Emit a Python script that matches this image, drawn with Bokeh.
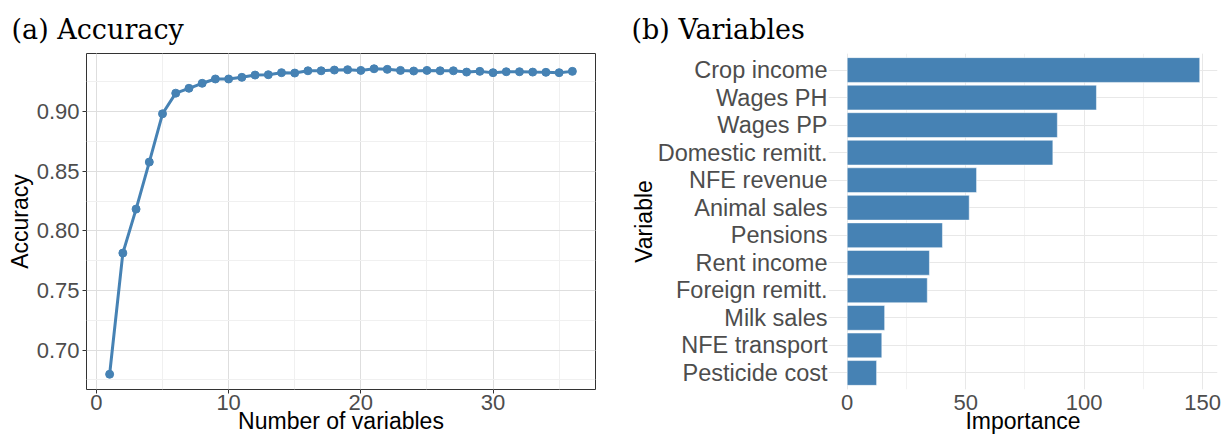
from bokeh.plotting import figure
from bokeh.models import Range1d, FactorRange, SingleIntervalTicker, NumeralTickFormatter, ColumnDataSource
from bokeh.layouts import row
from bokeh.embed import file_html
from bokeh.resources import INLINE

# ---------------- data ----------------
n_vars = [1, 2, 3, 4, 5, 6, 7, 8, 9, 10, 11, 12, 13, 14, 15, 16, 17, 18,
          19, 20, 21, 22, 23, 24, 25, 26, 27, 28, 29, 30, 31, 32, 33, 34, 35, 36]
accuracy = [0.6797, 0.7814, 0.8183, 0.8578, 0.8983, 0.9156, 0.9197, 0.9239,
            0.9275, 0.9275, 0.9289, 0.9308, 0.9311, 0.9328, 0.9325, 0.9344,
            0.9344, 0.9350, 0.9353, 0.9347, 0.9361, 0.9356, 0.9347, 0.9342,
            0.9347, 0.9344, 0.9344, 0.9333, 0.9339, 0.9328, 0.9336, 0.9336,
            0.9333, 0.9331, 0.9328, 0.9339]

variables = ["Crop income", "Wages PH", "Wages PP", "Domestic remitt.",
             "NFE revenue", "Animal sales", "Pensions", "Rent income",
             "Foreign remitt.", "Milk sales", "NFE transport", "Pesticide cost"]
importance = [148.8, 105.2, 88.7, 86.8, 54.6, 51.5, 40.2, 34.7, 33.8, 15.8, 14.6, 12.4]

panel_titles = ["(a) Accuracy", "(b) Variables"]
axis_titles = ["Number of variables", "Accuracy", "Importance", "Variable"]

STEEL = "#4682B4"
SANS = "Liberation Sans"
SERIF = "DejaVu Serif"
TICK_COL = "#4d4d4d"
H = 436


def style_title(p, text, offset):
    p.title.text = text
    p.title.align = "left"
    p.title.offset = offset
    p.title.text_font = SERIF
    p.title.text_font_size = "27px"
    p.title.text_font_style = "normal"
    p.title.text_color = "black"
    p.title.standoff = 18


def style_axis_title(ax, text, standoff):
    ax.axis_label = text
    ax.axis_label_text_font = SANS
    ax.axis_label_text_font_size = "23px"
    ax.axis_label_text_font_style = "normal"
    ax.axis_label_text_color = "black"
    ax.axis_label_standoff = standoff


# ---------------- left panel ----------------
p1 = figure(width=620, height=H, output_backend="svg", toolbar_location=None,
            x_range=Range1d(-0.75, 37.75), y_range=Range1d(0.6669, 0.9489),
            min_border_left=86, min_border_right=25, min_border_top=53,
            min_border_bottom=45)
style_title(p1, panel_titles[0], -75)

p1.outline_line_color = "#333333"
p1.outline_line_width = 1
p1.background_fill_color = "white"

p1.xaxis.ticker = SingleIntervalTicker(interval=10, num_minor_ticks=2)
p1.yaxis.ticker = SingleIntervalTicker(interval=0.05, num_minor_ticks=2)
p1.yaxis.formatter = NumeralTickFormatter(format="0.00")
for ax in (p1.xaxis, p1.yaxis):
    ax.axis_line_color = None
    ax.major_tick_line_color = "#333333"
    ax.major_tick_out = 4
    ax.major_tick_in = 0
    ax.minor_tick_line_color = None
    ax.major_label_text_font = SANS
    ax.major_label_text_font_size = "22px"
    ax.major_label_text_color = TICK_COL
    ax.major_label_standoff = 1
p1.yaxis.major_label_standoff = 3
style_axis_title(p1.xaxis, axis_titles[0], -5)
style_axis_title(p1.yaxis, axis_titles[1], 1)

for g in (p1.xgrid, p1.ygrid):
    g.grid_line_color = "#dedede"
    g.grid_line_width = 1
    g.minor_grid_line_color = "#f0f0f0"
    g.minor_grid_line_width = 1

src1 = ColumnDataSource(dict(n=n_vars, acc=accuracy))
p1.line("n", "acc", source=src1, line_color=STEEL, line_width=3)
p1.scatter("n", "acc", source=src1, size=8, fill_color=STEEL, line_color=STEEL)

# ---------------- right panel ----------------
p2 = figure(width=602, height=H, output_backend="svg", toolbar_location=None,
            x_range=Range1d(-7.9, 156.3),
            y_range=FactorRange(factors=variables[::-1], range_padding=0.0167),
            min_border_left=208, min_border_right=5, min_border_top=53,
            min_border_bottom=45)
style_title(p2, panel_titles[1], -197)
p2.outline_line_color = None

p2.xaxis.ticker = SingleIntervalTicker(interval=50, num_minor_ticks=2)
for ax in (p2.xaxis, p2.yaxis):
    ax.axis_line_color = None
    ax.major_tick_line_color = None
    ax.minor_tick_line_color = None
    ax.major_label_text_font = SANS
    ax.major_label_text_font_size = "22px"
    ax.major_label_text_color = TICK_COL
p2.xaxis.major_tick_out = 4
p2.xaxis.major_tick_in = 0
p2.xaxis.major_label_standoff = 1
p2.yaxis.major_tick_out = 0
p2.yaxis.major_tick_in = 0
p2.yaxis.major_label_standoff = 1
p2.yaxis.major_label_text_font_size = "23.5px"
style_axis_title(p2.xaxis, axis_titles[2], -5)
style_axis_title(p2.yaxis, axis_titles[3], -2)

p2.xgrid.grid_line_color = "#e8e8e8"
p2.xgrid.minor_grid_line_color = "#f2f2f2"
p2.ygrid.grid_line_color = "#e8e8e8"

src2 = ColumnDataSource(dict(var=variables, imp=importance))
p2.hbar(y="var", right="imp", left=0, height=0.9, source=src2,
        fill_color=STEEL, line_color="white", line_width=1, line_alpha=0.5)

layout = row(p1, p2, spacing=0)
open("out.html", "w").write(file_html(layout, INLINE))
